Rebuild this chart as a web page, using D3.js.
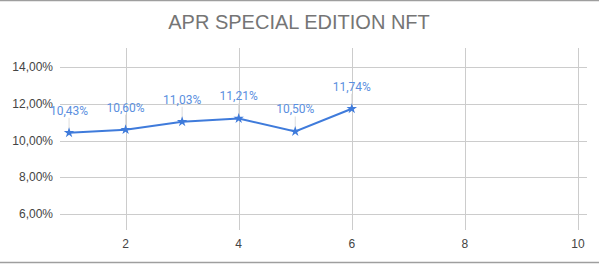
<!DOCTYPE html>
<html>
<head>
<meta charset="utf-8">
<script src="https://cdn.jsdelivr.net/npm/d3@7"></script>
<style>
  body { margin: 0; background: #fff; }
  svg { display: block; font-family: Arial, "Liberation Sans", sans-serif; }
</style>
</head>
<body>
<div id="chart"></div>
<script>
// Chart data
const xValues = [1, 2, 3, 4, 5, 6];
const aprValues = [10.43, 10.60, 11.03, 11.21, 10.50, 11.74];
const xTicks = [2, 4, 6, 8, 10];
const yTicks = [6, 8, 10, 12, 14];
const chartTitle = 'APR SPECIAL EDITION NFT';

const width = 599;
const height = 264;

const svg = d3.select('#chart')
    .append('svg')
    .attr('width', width)
    .attr('height', height);

// frame lines top and bottom
svg.append('line')
    .attr('x1', 0).attr('x2', width)
    .attr('y1', 0.5).attr('y2', 0.5)
    .attr('stroke', '#9e9e9e').attr('stroke-width', 1.5);
svg.append('line')
    .attr('x1', 0).attr('x2', width)
    .attr('y1', 262.5).attr('y2', 262.5)
    .attr('stroke', '#9e9e9e').attr('stroke-width', 1.5);

// Scales
const x = d3.scaleLinear()
    .domain([0.84, 10.16])
    .range([60, 587]);

const y = d3.scaleLinear()
    .domain([5.13, 15.05])
    .range([230, 48]);

// Title
svg.append('text')
    .attr('x', 299)
    .attr('y', 29)
    .attr('text-anchor', 'middle')
    .attr('font-size', 20)
    .attr('fill', '#757575')
    .text(chartTitle);

// Gridlines
svg.append('g')
    .selectAll('line')
    .data(yTicks)
    .join('line')
    .attr('x1', 60).attr('x2', 587)
    .attr('y1', d => Math.round(y(d)) + 0.5)
    .attr('y2', d => Math.round(y(d)) + 0.5)
    .attr('stroke', '#cccccc');

svg.append('g')
    .selectAll('line')
    .data(xTicks)
    .join('line')
    .attr('x1', d => Math.round(x(d)) + 0.5)
    .attr('x2', d => Math.round(x(d)) + 0.5)
    .attr('y1', 48).attr('y2', 230)
    .attr('stroke', '#cccccc');

// Axis labels
svg.append('g')
    .selectAll('text')
    .data(yTicks)
    .join('text')
    .attr('x', 53)
    .attr('y', d => y(d) + 4)
    .attr('text-anchor', 'end')
    .attr('font-size', 12)
    .attr('fill', '#444444')
    .text(d => d3.format('.2f')(d).replace('.', ',') + '%');

svg.append('g')
    .selectAll('text')
    .data(xTicks)
    .join('text')
    .attr('x', d => x(d))
    .attr('y', 248)
    .attr('text-anchor', 'middle')
    .attr('font-size', 12)
    .attr('fill', '#444444')
    .text(d => d);

const points = xValues.map((v, i) => ({ x: v, y: aprValues[i] }));

// faint leader lines from labels to points
svg.append('g')
    .selectAll('line')
    .data(points)
    .join('line')
    .attr('x1', d => x(d.x)).attr('x2', d => x(d.x))
    .attr('y1', d => y(d.y) - 15).attr('y2', d => y(d.y))
    .attr('stroke', '#dddddd');

// Line
const line = d3.line()
    .x(d => x(d.x))
    .y(d => y(d.y));

svg.append('path')
    .datum(points)
    .attr('d', line)
    .attr('fill', 'none')
    .attr('stroke', '#3f7bdb')
    .attr('stroke-width', 2);

// Star markers
svg.append('g')
    .selectAll('path')
    .data(points)
    .join('path')
    .attr('transform', d => `translate(${x(d.x)},${y(d.y)})`)
    .attr('d', d3.symbol().type(d3.symbolStar).size(34))
    .attr('fill', '#3f7bdb');

// Data labels
svg.append('g')
    .selectAll('text')
    .data(points)
    .join('text')
    .attr('x', d => x(d.x))
    .attr('y', d => y(d.y) - 18)
    .attr('text-anchor', 'middle')
    .attr('font-family', 'Roboto, Arial, sans-serif')
    .attr('font-size', 12)
    .attr('fill', '#5b8fe0')
    .text(d => d3.format('.2f')(d.y).replace('.', ',') + '%');
</script>
</body>
</html>
